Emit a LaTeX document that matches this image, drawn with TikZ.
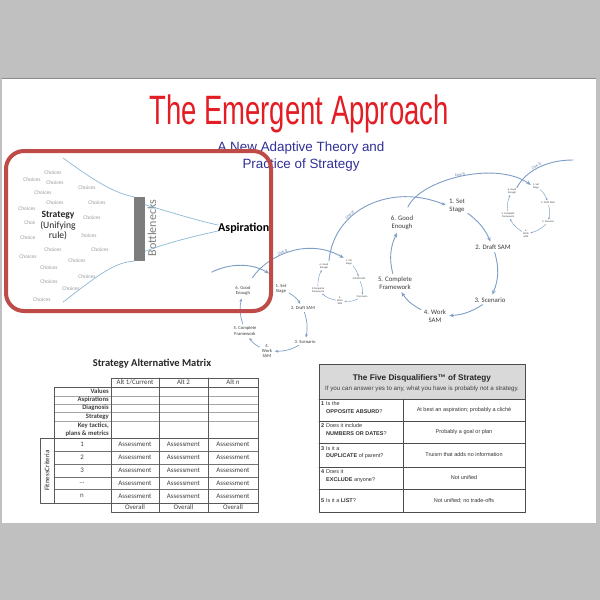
\documentclass[tikz,border=0pt]{standalone}
\usepackage{graphicx}
\usepackage{fontspec}
\setmainfont{Carlito}
\newfontfamily\headfont{Liberation Sans}
\usetikzlibrary{arrows.meta}
\definecolor{pagegray}{RGB}{192,192,192}
\definecolor{titlered}{RGB}{228,28,36}
\definecolor{subblue}{RGB}{48,48,150}
\definecolor{boxred}{RGB}{190,75,72}
\definecolor{flowblue}{RGB}{125,158,198}
\definecolor{lineblue}{RGB}{140,185,215}
\definecolor{choicegray}{RGB}{155,155,155}
\definecolor{neckgray}{RGB}{125,125,125}
\definecolor{labelgray}{RGB}{60,60,60}
\definecolor{cellgray}{RGB}{217,217,217}
\tikzset{
  choice/.style={inner sep=0pt,text=choicegray,font=\fontsize{5.5}{6}\selectfont},
  bigstage/.style={align=center,inner sep=1pt,text=labelgray,font=\fontsize{6.8}{7.8}\selectfont},
  midstage/.style={align=center,inner sep=0.6pt,text=labelgray,font=\fontsize{4.6}{5.4}\selectfont},
  tinystage/.style={align=center,inner sep=0.3pt,text=labelgray,font=\fontsize{2.6}{3.1}\selectfont},
  flow/.style={draw=flowblue,line width=0.9pt,-{Stealth[length=4.5pt,width=3.6pt]},shorten >=2pt,shorten <=2pt},
  midflow/.style={flow,line width=0.7pt,-{Stealth[length=3.5pt,width=2.8pt]}},
  tinyflow/.style={flow,line width=0.45pt,-{Stealth[length=2.2pt,width=1.8pt]},shorten >=1pt,shorten <=1pt},
  liveit/.style={sloped,above,inner sep=0.5pt,text=flowblue!80!black,font=\fontsize{4.3}{4.5}\selectfont},
  cell/.style={inner sep=0pt,font=\fontsize{6.9}{7.9}\selectfont,text=black!75},
  dq/.style={inner sep=0pt,anchor=west,font=\headfont\fontsize{5.5}{6.5}\selectfont,text=black!80},
}
\begin{document}
\begin{tikzpicture}[x=1pt,y=1pt,line join=round,line cap=round]
\useasboundingbox (0,0) rectangle (600,-600);
\fill[pagegray] (0,0) rectangle (600,-600);
\fill[white] (2,-78) rectangle (596,-523);
\draw[black!45,line width=0.6pt] (2,-78) -- (596,-78);

% title
\node[anchor=base,text=titlered,font=\headfont\fontsize{41}{41}\selectfont] (title) at (299,-124) {\scalebox{0.67}[1]{The Emergent Approach}};
\node[align=center,text=subblue,font=\headfont\fontsize{13.4}{17}\selectfont] (sub) at (301,-157) {A New Adaptive Theory and\\Practice of Strategy};

% choices and bottleneck
\foreach \x/\y [count=\i] in {53/173,32/180,55/183,43/193,87/188,55/203,97/203,27/209,92/218,33/223,29/238,88/236,53/250,100/250,28/257,77/261,49/268,87/277,49/282,71/289,42/300}
  \node[choice] (ch\i) at (\x,-\y) {Choices};
\node[fill=white,align=center,inner xsep=5pt,inner ysep=1pt,text=black!85,font=\fontsize{9.6}{10.5}\selectfont] (strat) at (58,-226) {\textbf{Strategy}\\(Unifying\\rule)};
\coordinate (topin) at (63,-158);
\coordinate (botin) at (63,-302);
\node[fill=neckgray,minimum width=11pt,minimum height=64pt,inner sep=0pt] (neck) at (139.5,-229) {};
\node[rotate=90,text=neckgray,font=\fontsize{12}{12}\selectfont] (necklbl) at (152,-228) {Bottlenecks};
\node[anchor=west,inner sep=0pt,font=\bfseries\fontsize{12}{12}\selectfont] (asp) at (218,-228) {Aspiration};
\draw[lineblue,line width=0.7pt] (topin) .. controls (88,-176) and (112,-193) .. (neck.north west);
\draw[lineblue,line width=0.7pt] ([yshift=-8pt]neck.north east) .. controls (170,-212) and (195,-220) .. ([yshift=3pt]asp.west);
\draw[lineblue,line width=0.7pt] ([yshift=10pt]neck.south east) .. controls (170,-242) and (195,-236) .. ([yshift=-3pt]asp.west);
\draw[lineblue,line width=0.7pt] (botin) .. controls (90,-282) and (112,-262) .. (neck.south west);

% left cycle
\node[midstage] (l1) at (281,-289) {1. Set\\Stage};
\node[midstage] (l2) at (303,-308) {2. Draft SAM};
\node[midstage] (l3) at (305,-342) {3. Scenario};
\node[midstage] (l4) at (267,-351) {4.\\Work\\SAM};
\node[midstage] (l5) at (245,-331) {5. Complete\\Framework};
\node[midstage] (l6) at (243,-291) {6. Good\\Enough};
\draw[midflow] (l1) to[bend left=15] (l2);
\draw[midflow] (l2) to[bend left=15] (l3);
\draw[midflow] (l3) to[bend left=15] (l4);
\draw[midflow] (l4) to[bend left=15] (l5);
\draw[midflow] (l5) to[bend left=15] (l6);

% middle cycle
\node[tinystage] (m1) at (349,-262) {1. Set\\Stage};
\node[tinystage] (m2) at (359,-279) {2.Draft SAM};
\node[tinystage] (m3) at (362,-297) {3.Scenario};
\node[tinystage] (m4) at (340,-301) {4.\\Work\\SAM};
\node[tinystage] (m5) at (318,-290) {5.Complete\\Framework};
\node[tinystage] (m6) at (324,-266) {6. Good\\Enough};
\draw[tinyflow] (m1) to[bend left=15] (m2);
\draw[tinyflow] (m2) to[bend left=15] (m3);
\draw[tinyflow] (m3) to[bend left=15] (m4);
\draw[tinyflow] (m4) to[bend left=15] (m5);
\draw[tinyflow] (m5) to[bend left=15] (m6);

% big cycle
\node[bigstage] (b1) at (457,-206) {1. Set\\Stage};
\node[bigstage] (b2) at (493,-247) {2. Draft SAM};
\node[bigstage] (b3) at (490,-300) {3. Scenario};
\node[bigstage] (b4) at (435,-316) {4. Work\\SAM};
\node[bigstage] (b5) at (395,-283) {5. Complete\\Framework};
\node[bigstage] (b6) at (402,-223) {6. Good\\Enough};
\draw[flow] (b1) to[bend left=15] (b2);
\draw[flow] (b2) to[bend left=20] (b3);
\draw[flow] (b3) to[bend left=15] (b4);
\draw[flow] (b4) to[bend left=15] (b5);
\draw[flow] (b5) to[bend left=20] (b6);

% right cycle
\node[tinystage] (r1) at (536,-186) {1. Set\\Stage};
\node[tinystage] (r2) at (548,-203) {2. Draft SAM};
\node[tinystage] (r3) at (548,-222) {3. Scenario};
\node[tinystage] (r4) at (526,-234) {4.\\Work\\SAM};
\node[tinystage] (r5) at (508,-215) {5. Complete\\Framework};
\node[tinystage] (r6) at (512,-191) {6. Good\\Enough};
\draw[tinyflow] (r1) to[bend left=15] (r2);
\draw[tinyflow] (r2) to[bend left=15] (r3);
\draw[tinyflow] (r3) to[bend left=15] (r4);
\draw[tinyflow] (r4) to[bend left=15] (r5);
\draw[tinyflow] (r5) to[bend left=15] (r6);

% live it arcs
\coordinate (lin) at (210,-273);
\coordinate (rout) at (573,-160);
\draw[flow] (lin) .. controls (230,-263) and (252,-263) .. ([shift={(-4pt,9pt)}]l1.north west);
\draw[flow] ([yshift=6pt]l6.north east) .. controls (265,-258) and (305,-236) .. (m1.north west) node[liveit,pos=0.45] {Live It};
\draw[flow] (m6.north east) .. controls (334,-208) and (392,-183) .. (b1.west) node[liveit,pos=0.35] {Live It};
\draw[flow] ([shift={(5pt,6pt)}]b6.north) .. controls (420,-180) and (495,-160) .. (r1.west) node[liveit,pos=0.5] {Live It};
\draw[draw=flowblue,line width=0.9pt] (r6.north east) .. controls (525,-172) and (545,-160) .. (rout) node[liveit,pos=0.5] {Live It};

% red frame on top
\draw[boxred,line width=4pt,rounded corners=18pt] (6,-151) rectangle (271,-311);

% strategy alternative matrix
\node[font=\bfseries\fontsize{10.5}{10.5}\selectfont,text=black!85] (mtitle) at (152,-364) {Strategy Alternative Matrix};
\draw[black!35,line width=0.4pt] (54,-396) -- (258,-396) (54,-404) -- (258,-404) (54,-412) -- (258,-412) (54,-421) -- (258,-421);
\draw[black!55,line width=0.5pt] (54,-451) -- (258,-451) (54,-464) -- (258,-464) (54,-477) -- (258,-477) (54,-489) -- (258,-489);
\draw[black!65,line width=0.7pt] (111,-378) rectangle (258,-387) (159,-378) -- (159,-387) (208,-378) -- (208,-387)
  (54,-387) rectangle (258,-438) (111,-387) -- (111,-512) (159,-387) -- (159,-512) (208,-387) -- (208,-512)
  (40,-438) rectangle (258,-503) (54,-438) -- (54,-503) (111,-503) rectangle (258,-512);
\node[cell] (h1) at (135,-382.5) {Alt 1/Current};
\node[cell] (h2) at (183.5,-382.5) {Alt 2};
\node[cell] (h3) at (233,-382.5) {Alt n};
\node[cell,anchor=east,font=\bfseries\fontsize{6.7}{7.5}\selectfont] (k1) at (109,-391.5) {Values};
\node[cell,anchor=east,font=\bfseries\fontsize{6.7}{7.5}\selectfont] (k2) at (109,-400) {Aspirations};
\node[cell,anchor=east,font=\bfseries\fontsize{6.7}{7.5}\selectfont] (k3) at (109,-408) {Diagnosis};
\node[cell,anchor=east,font=\bfseries\fontsize{6.7}{7.5}\selectfont] (k4) at (109,-416.5) {Strategy};
\node[cell,anchor=east,align=right,font=\bfseries\fontsize{6.7}{8}\selectfont] (k5) at (109,-429.5) {Key tactics,\\plans \& metrics};
\node[cell,rotate=90,text=black!85,font=\fontsize{7}{7}\selectfont] (fit) at (47,-470.5) {FitnessCriteria};
\foreach \y/\n [count=\r] in {444.5/1,457.5/2,470.5/3,483/\ldots,496/n}{
  \node[cell] (num\r) at (82,-\y) {\n};
  \node[cell] (as\r a) at (135,-\y) {Assessment};
  \node[cell] (as\r b) at (183.5,-\y) {Assessment};
  \node[cell] (as\r c) at (233,-\y) {Assessment};
}
\node[cell] (ov1) at (135,-507.5) {Overall};
\node[cell] (ov2) at (183.5,-507.5) {Overall};
\node[cell] (ov3) at (233,-507.5) {Overall};

% five disqualifiers
\fill[cellgray] (319,-364) rectangle (525,-399);
\draw[black!70,line width=0.8pt] (319,-364) rectangle (525,-512);
\draw[black!70,line width=0.6pt] (319,-399) -- (525,-399) (319,-421) -- (525,-421) (319,-443) -- (525,-443)
  (319,-467) -- (525,-467) (319,-489) -- (525,-489) (403,-399) -- (403,-512);
\node[font=\headfont\bfseries\fontsize{8.2}{9}\selectfont,text=black!85] (dqtitle) at (422,-378) {The Five Disqualifiers™ of Strategy};
\node[font=\headfont\fontsize{6.2}{7}\selectfont,text=black!75] (dqsub) at (422,-389) {If you can answer yes to any, what you have is probably not a strategy.};
\node[dq] (n1) at (321,-404) {\textbf{1}};
\node[dq] (q1) at (326,-404) {Is the};
\node[dq] (q1b) at (326,-411.5) {\textbf{OPPOSITE ABSURD}?};
\node[dq] (n2) at (321,-426) {\textbf{2}};
\node[dq] (q2) at (326,-426) {Does it include};
\node[dq] (q2b) at (326,-434) {\textbf{NUMBERS OR DATES}?};
\node[dq] (n3) at (321,-449) {\textbf{3}};
\node[dq] (q3) at (326,-449) {Is it a};
\node[dq] (q3b) at (326,-456.5) {\textbf{DUPLICATE} of parent?};
\node[dq] (n4) at (321,-472) {\textbf{4}};
\node[dq] (q4) at (326,-472) {Does it};
\node[dq] (q4b) at (326,-480) {\textbf{EXCLUDE} anyone?};
\node[dq] (n5) at (321,-501) {\textbf{5}};
\node[dq] (q5) at (326,-501) {Is it a \textbf{LIST}?};
\node[dq,anchor=center] (a1) at (464,-410) {At best an aspiration; probably a cliché};
\node[dq,anchor=center] (a2) at (464,-432.5) {Probably a goal or plan};
\node[dq,anchor=center] (a3) at (464,-455) {Truism that adds no information};
\node[dq,anchor=center] (a4) at (464,-478) {Not unified};
\node[dq,anchor=center] (a5) at (464,-501) {Not unified; no trade-offs};
\end{tikzpicture}
\end{document}
